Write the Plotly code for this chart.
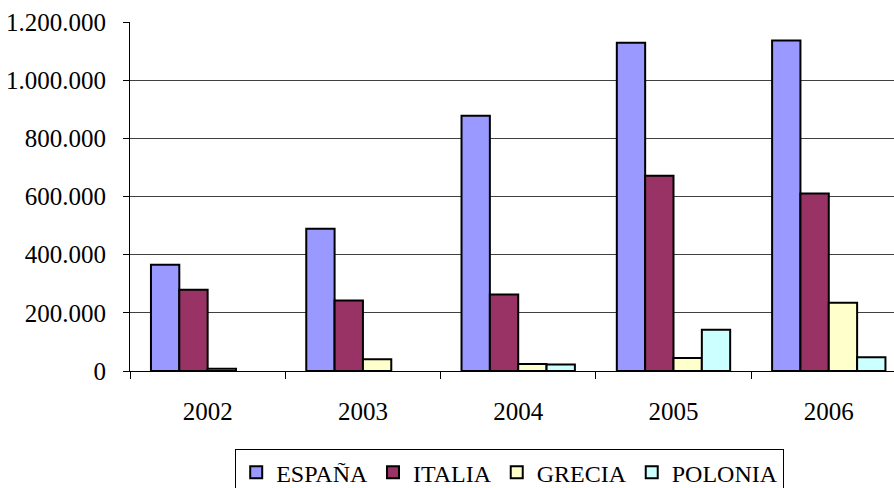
import plotly.graph_objects as go

years = ["2002", "2003", "2004", "2005", "2006"]
espana = [365000, 489000, 878000, 1129000, 1136000]
italia = [279000, 242000, 263000, 671000, 610000]
grecia = [8000, 40000, 24000, 45000, 235000]
polonia = [0, 0, 22000, 142000, 47000]

series = [
    ("ESPAÑA", espana, "#9999FF"),
    ("ITALIA", italia, "#993366"),
    ("GRECIA", grecia, "#FFFFCC"),
    ("POLONIA", polonia, "#CCFFFF"),
]

fig = go.Figure()
for name, vals, col in series:
    fig.add_trace(go.Bar(
        x=years, y=[v if v else None for v in vals], name=name,
        marker=dict(color=col, line=dict(color="black", width=2)),
    ))

font = "Liberation Serif, Times New Roman, serif"
fig.update_layout(
    width=894, height=488,
    margin=dict(l=130, r=0, t=22, b=117, autoexpand=False),
    paper_bgcolor="white", plot_bgcolor="white",
    barmode="group", bargap=0.27, bargroupgap=0,
    separators=",.",
    font=dict(family=font, size=25, color="black"),
    showlegend=True,
    legend=dict(
        orientation="h", x=0.497, xanchor="center", y=-0.224, yanchor="top",
        font=dict(family=font, size=24, color="black"),
        bordercolor="black", borderwidth=1, bgcolor="white",
        tracegroupgap=0, itemwidth=30,
    ),
    xaxis=dict(
        type="category", range=[-0.5, 4.42],
        tickson="boundaries", ticks="outside", ticklen=7, tickcolor="black",
        showline=True, linecolor="black", linewidth=1,
        showgrid=False, ticklabelstandoff=18,
        tickfont=dict(family=font, size=25),
    ),
    yaxis=dict(
        range=[0, 1200000], dtick=200000, tickformat=",d",
        ticks="outside", ticklen=6, tickcolor="black",
        showline=True, linecolor="black", linewidth=1,
        showgrid=True, gridcolor="#404040", gridwidth=1,
        zeroline=False, ticklabelstandoff=12,
        tickfont=dict(family=font, size=25),
    ),
)

fig.write_html(
    "out.html",
    config={"displayModeBar": False},
    post_script="document.body.style.margin='0px';document.body.style.overflow='hidden';",
)
